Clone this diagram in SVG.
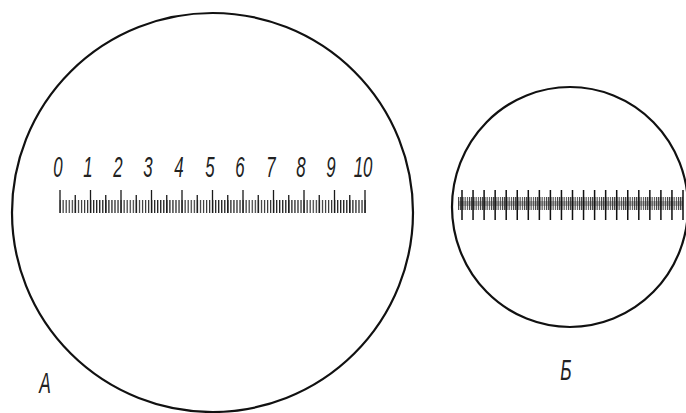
<svg xmlns="http://www.w3.org/2000/svg" width="686" height="413" viewBox="0 0 686 413">
<style>
.ring{fill:none;stroke:#111;stroke-width:2.2}
.num{font-family:"Liberation Sans",Arial,sans-serif;font-style:italic;font-size:29px;fill:#222;text-anchor:middle}
.lbl{font-family:"Liberation Sans",Arial,sans-serif;font-style:italic;font-size:29px;fill:#222;text-anchor:middle}
.tk{stroke:#1a1a1a;stroke-width:1.3;fill:none}
.tkb{stroke:#111;stroke-width:1.5;fill:none}
</style>
<defs>
<pattern id="pa" patternUnits="userSpaceOnUse" x="59.5" y="0" width="3.05" height="413">
<rect x="0" y="0" width="1.2" height="413" fill="#222"/>
</pattern>
<pattern id="pb" patternUnits="userSpaceOnUse" x="458" y="0" width="2.2" height="413">
<rect x="0" y="0" width="1.1" height="413" fill="#111"/>
</pattern>
</defs>
<rect width="686" height="413" fill="#fff"/>
<g id="fieldA">
<ellipse class="ring" cx="212.5" cy="212.5" rx="200.5" ry="199.5"/>
<rect x="59.5" y="200" width="306.5" height="13" fill="url(#pa)"/>
<path class="tk" d="M60 190V213M75.25 195V213M90.5 190V213M105.75 195V213M121 190V213M136.25 195V213M151.5 190V213M166.75 195V213M182 190V213M197.25 195V213M212.5 190V213M227.75 195V213M243 190V213M258.25 195V213M273.5 190V213M288.75 195V213M304 190V213M319.25 195V213M334.5 190V213M349.75 195V213M365 190V213"/>
<g class="num">
<text transform="translate(58 177) scale(0.58 1)">0</text>
<text transform="translate(88 177) scale(0.58 1)">1</text>
<text transform="translate(118 177) scale(0.58 1)">2</text>
<text transform="translate(148 177) scale(0.58 1)">3</text>
<text transform="translate(179 177) scale(0.58 1)">4</text>
<text transform="translate(210 177) scale(0.58 1)">5</text>
<text transform="translate(240 177) scale(0.58 1)">6</text>
<text transform="translate(271 177) scale(0.58 1)">7</text>
<text transform="translate(301 177) scale(0.58 1)">8</text>
<text transform="translate(331 177) scale(0.58 1)">9</text>
<text transform="translate(363 177) scale(0.58 1)">10</text>
</g>
<text class="lbl" transform="translate(45 393) scale(0.6 1)">А</text>
</g>
<g id="fieldB">
<ellipse class="ring" cx="570" cy="207" rx="118" ry="120"/>
<rect x="458" y="197" width="225" height="13" fill="url(#pb)" opacity="0.85"/>
<rect x="458" y="201" width="225" height="5" fill="#333" opacity="0.35"/>
<path class="tkb" d="M462 190V220M473.05 190V220M484.1 190V220M495.15 190V220M506.2 190V220M517.25 190V220M528.3 190V220M539.35 190V220M550.4 190V220M561.45 190V220M572.5 190V220M583.55 190V220M594.6 190V220M605.65 190V220M616.7 190V220M627.75 190V220M638.8 190V220M649.85 190V220M660.9 190V220M671.95 190V220M683 190V220"/>
<text class="lbl" transform="translate(566 380) scale(0.6 1)">Б</text>
</g>
</svg>
